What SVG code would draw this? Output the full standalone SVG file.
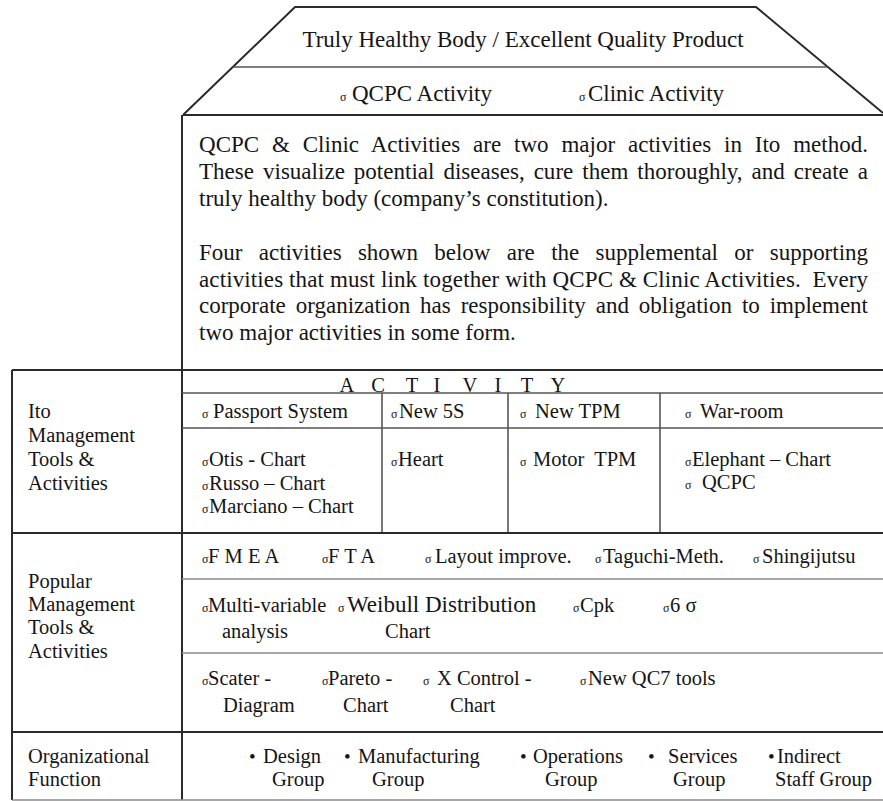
<svg xmlns="http://www.w3.org/2000/svg" width="883" height="801" viewBox="0 0 883 801">
<style>
  text { font-family: "Liberation Serif", "Times New Roman", serif; fill: #151515; }
  .t { font-size: 20.5px; }
  .p { font-size: 23px; }
  .r { font-size: 23px; }
  .s { font-size: 12px; }
  .b { font-size: 19px; }
  .dark { stroke: #2a2a2a; stroke-width: 2; fill: none; }
  .lite { stroke: #555; stroke-width: 1.6; fill: none; }
  .grey { stroke: #8a8a8a; stroke-width: 1.6; fill: none; }
</style>
<rect width="883" height="801" fill="#ffffff"/>

<!-- roof -->
<g id="roof">
  <polyline class="dark" points="183,115 295,7 756,7 883,113"/>
  <line class="lite" x1="233" y1="67" x2="828" y2="67"/>
  <line class="dark" x1="183" y1="115" x2="883" y2="115"/>
  <text class="r" x="523" y="47" text-anchor="middle">Truly Healthy Body / Excellent Quality Product</text>
  <text class="r" y="101"><tspan class="s" x="340">σ</tspan><tspan x="352">QCPC Activity</tspan></text>
  <text class="r" y="101"><tspan class="s" x="579">σ</tspan><tspan x="588">Clinic Activity</tspan></text>
</g>

<!-- body text -->
<g id="body">
  <text class="p" x="199" y="152" word-spacing="7.1" textLength="669" lengthAdjust="spacing">QCPC &amp; Clinic Activities are two major activities in Ito method.</text>
  <text class="p" x="199" y="179" word-spacing="3.2" textLength="669" lengthAdjust="spacing">These visualize potential diseases, cure them thoroughly, and create a</text>
  <text class="p" x="199" y="206">truly healthy body (company’s constitution).</text>
  <text class="p" x="199" y="260" word-spacing="10.6" textLength="669" lengthAdjust="spacing">Four activities shown below are the supplemental or supporting</text>
  <text class="p" x="199" y="287" textLength="669" lengthAdjust="spacing" xml:space="preserve">activities that must link together with QCPC &amp; Clinic Activities.  Every</text>
  <text class="p" x="199" y="313" word-spacing="4.2" textLength="669" lengthAdjust="spacing">corporate organization has responsibility and obligation to implement</text>
  <text class="p" x="199" y="340">two major activities in some form.</text>
</g>

<!-- table grid -->
<g id="grid">
  <line class="dark" x1="182" y1="115" x2="182" y2="800"/>
  <line class="dark" x1="12" y1="370" x2="12" y2="800"/>
  <line class="dark" x1="12" y1="370" x2="883" y2="370"/>
  <line class="lite" x1="182" y1="393" x2="883" y2="393"/>
  <line class="lite" x1="182" y1="428" x2="883" y2="428"/>
  <line class="lite" x1="382" y1="393" x2="382" y2="533"/>
  <line class="lite" x1="508" y1="393" x2="508" y2="533"/>
  <line class="lite" x1="660" y1="393" x2="660" y2="533"/>
  <line class="dark" x1="12" y1="533" x2="883" y2="533"/>
  <line class="grey" x1="182" y1="579" x2="883" y2="579"/>
  <line class="grey" x1="182" y1="653" x2="883" y2="653"/>
  <line class="dark" x1="12" y1="732" x2="883" y2="732"/>
  <line class="grey" x1="12" y1="800" x2="883" y2="800"/>
</g>

<!-- Ito management tools row -->
<g id="ito">
  <text class="t" x="28" y="418">Ito</text>
  <text class="t" x="28" y="442">Management</text>
  <text class="t" x="28" y="466">Tools &amp;</text>
  <text class="t" x="28" y="490">Activities</text>
  <text class="t" x="347 378 412 437 470 498 527 558" y="392" text-anchor="middle">ACTIVITY</text>
  <text class="t" y="418"><tspan class="s" x="202">σ</tspan><tspan x="213">Passport System</tspan></text>
  <text class="t" y="418"><tspan class="s" x="391">σ</tspan><tspan x="399">New 5S</tspan></text>
  <text class="t" y="418"><tspan class="s" x="520">σ</tspan><tspan x="535">New TPM</tspan></text>
  <text class="t" y="418"><tspan class="s" x="685">σ</tspan><tspan x="700">War-room</tspan></text>
  <text class="t" y="466"><tspan class="s" x="202">σ</tspan><tspan x="209">Otis - Chart</tspan></text>
  <text class="t" y="490"><tspan class="s" x="202">σ</tspan><tspan x="209">Russo – Chart</tspan></text>
  <text class="t" y="513"><tspan class="s" x="202">σ</tspan><tspan x="209">Marciano – Chart</tspan></text>
  <text class="t" y="466"><tspan class="s" x="391">σ</tspan><tspan x="398">Heart</tspan></text>
  <text class="t" y="466" xml:space="preserve"><tspan class="s" x="520">σ</tspan><tspan x="533">Motor  TPM</tspan></text>
  <text class="t" y="466"><tspan class="s" x="685">σ</tspan><tspan x="692">Elephant – Chart</tspan></text>
  <text class="t" y="489"><tspan class="s" x="685">σ</tspan><tspan x="702">QCPC</tspan></text>
</g>

<!-- popular management tools rows -->
<g id="popular">
  <text class="t" x="28" y="588">Popular</text>
  <text class="t" x="28" y="611">Management</text>
  <text class="t" x="28" y="634">Tools &amp;</text>
  <text class="t" x="28" y="658">Activities</text>
  <text class="t" y="563"><tspan class="s" x="202">σ</tspan><tspan x="208">F M E A</tspan></text>
  <text class="t" y="563"><tspan class="s" x="322">σ</tspan><tspan x="328">F T A</tspan></text>
  <text class="t" y="563"><tspan class="s" x="425">σ</tspan><tspan x="435">Layout improve.</tspan></text>
  <text class="t" y="563"><tspan class="s" x="595">σ</tspan><tspan x="603">Taguchi-Meth.</tspan></text>
  <text class="t" y="563"><tspan class="s" x="753">σ</tspan><tspan x="762">Shingijutsu</tspan></text>
  <text class="t" y="612"><tspan class="s" x="202">σ</tspan><tspan x="208">Multi-variable</tspan></text>
  <text class="t" y="612"><tspan class="s" x="338">σ</tspan><tspan x="347" style="font-size:23px">Weibull Distribution</tspan></text>
  <text class="t" y="612"><tspan class="s" x="573">σ</tspan><tspan x="580">Cpk</tspan></text>
  <text class="t" y="612"><tspan class="s" x="663">σ</tspan><tspan x="670">6 σ</tspan></text>
  <text class="t" x="222" y="638">analysis</text>
  <text class="t" x="385" y="638">Chart</text>
  <text class="t" y="685"><tspan class="s" x="202">σ</tspan><tspan x="208">Scater -</tspan></text>
  <text class="t" y="685"><tspan class="s" x="322">σ</tspan><tspan x="328">Pareto -</tspan></text>
  <text class="t" y="685"><tspan class="s" x="423">σ</tspan><tspan x="437">X Control -</tspan></text>
  <text class="t" y="685"><tspan class="s" x="580">σ</tspan><tspan x="588">New QC7 tools</tspan></text>
  <text class="t" x="223" y="712">Diagram</text>
  <text class="t" x="343" y="712">Chart</text>
  <text class="t" x="450" y="712">Chart</text>
</g>

<!-- organizational function row -->
<g id="organization">
  <text class="t" x="28" y="763">Organizational</text>
  <text class="t" x="28" y="786">Function</text>
  <text class="t" y="763"><tspan class="b" x="249">•</tspan><tspan x="263">Design</tspan></text>
  <text class="t" x="272" y="786">Group</text>
  <text class="t" y="763"><tspan class="b" x="344">•</tspan><tspan x="358">Manufacturing</tspan></text>
  <text class="t" x="372" y="786">Group</text>
  <text class="t" y="763"><tspan class="b" x="520">•</tspan><tspan x="533">Operations</tspan></text>
  <text class="t" x="545" y="786">Group</text>
  <text class="t" y="763"><tspan class="b" x="648">•</tspan><tspan x="668">Services</tspan></text>
  <text class="t" x="673" y="786">Group</text>
  <text class="t" y="763"><tspan class="b" x="768">•</tspan><tspan x="777">Indirect</tspan></text>
  <text class="t" x="775" y="786">Staff Group</text>
</g>
</svg>
